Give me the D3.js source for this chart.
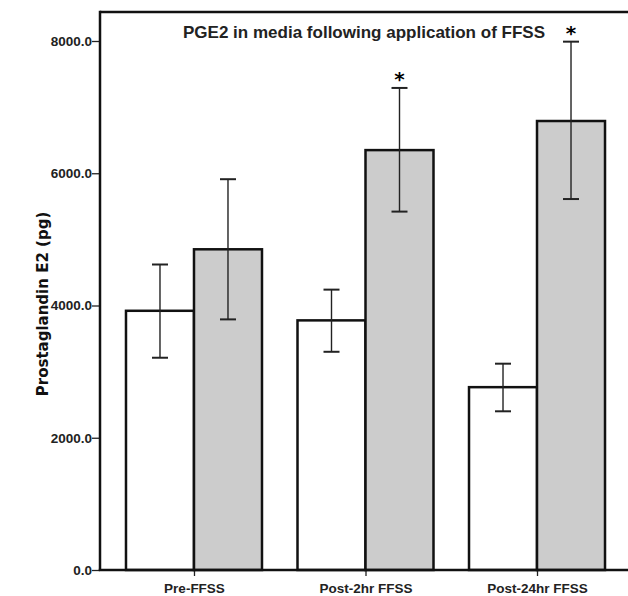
<!DOCTYPE html>
<html>
<head>
<meta charset="utf-8">
<script src="https://cdn.jsdelivr.net/npm/d3@7/dist/d3.min.js"></script>
<style>
  body { margin: 0; background: #fff; }
  .tick text { font-family: "Liberation Sans Narrow", "Liberation Sans", Arial, sans-serif; font-weight: bold; }
</style>
</head>
<body>
<div id="chart"></div>
<script>
// data
const categories = ["Pre-FFSS", "Post-2hr FFSS", "Post-24hr FFSS"];
const meanControl = [3920, 3775, 2765];
const lowControl  = [3210, 3300, 2400];
const highControl = [4620, 4240, 3120];
const meanTreated = [4850, 6350, 6790];
const lowTreated  = [3790, 5420, 5610];
const highTreated = [5910, 7290, 7990];
const significant = [false, true, true];
const yTicks = [0, 2000, 4000, 6000, 8000];

const W = 628, H = 596;
const margin = {top: 12, left: 100, bottom: 26};
const plotBottom = H - margin.bottom;

const svg = d3.select("#chart").append("svg")
    .attr("width", W).attr("height", H);

const y = d3.scaleLinear().domain([0, 8000]).range([plotBottom, 41]);
const x = d3.scalePoint().domain(categories).range([margin.left, 631]).padding(0.548);
const barW = 68;

const rows = categories.map((c, i) => ([
    {cat: c, s: 0, mean: meanControl[i], lo: lowControl[i], hi: highControl[i]},
    {cat: c, s: 1, mean: meanTreated[i], lo: lowTreated[i], hi: highTreated[i]}
])).flat();

// bars
svg.selectAll(".bar").data(rows).join("rect")
    .attr("class", "bar")
    .attr("x", d => x(d.cat) + (d.s === 0 ? -barW : 0))
    .attr("width", barW)
    .attr("y", d => y(d.mean))
    .attr("height", d => plotBottom - y(d.mean))
    .attr("fill", d => d.s === 0 ? "#ffffff" : "#cccccc")
    .attr("stroke", "#111")
    .attr("stroke-width", 2.5);

// error bars
const cap = 8;
const eb = svg.selectAll(".err").data(rows).join("g")
    .attr("class", "err")
    .attr("stroke", "#222")
    .attr("stroke-width", 1.4);
const cx = d => x(d.cat) + (d.s === 0 ? -barW / 2 : barW / 2);
eb.append("line").attr("x1", cx).attr("x2", cx)
    .attr("y1", d => y(d.hi)).attr("y2", d => y(d.lo));
eb.append("line").attr("x1", d => cx(d) - cap).attr("x2", d => cx(d) + cap)
    .attr("y1", d => y(d.hi)).attr("y2", d => y(d.hi)).attr("stroke-width", 2);
eb.append("line").attr("x1", d => cx(d) - cap).attr("x2", d => cx(d) + cap)
    .attr("y1", d => y(d.lo)).attr("y2", d => y(d.lo)).attr("stroke-width", 2);

// asterisks
svg.selectAll(".star").data(rows.filter(d => d.s === 1 && significant[categories.indexOf(d.cat)]))
    .join("text")
    .attr("class", "star")
    .attr("x", cx)
    .attr("y", d => y(d.hi) - 2)
    .attr("text-anchor", "middle")
    .style("font-family", "DejaVu Sans, sans-serif")
    .style("font-weight", "bold")
    .style("font-size", "20px")
    .text("*");

// frame top
svg.append("line")
    .attr("x1", margin.left).attr("x2", W)
    .attr("y1", margin.top).attr("y2", margin.top)
    .attr("stroke", "#111").attr("stroke-width", 2.5);

// axes
const yAxis = svg.append("g")
    .attr("transform", `translate(${margin.left},0)`)
    .call(d3.axisLeft(y).tickValues(yTicks).tickFormat(d3.format(".1f")).tickSize(8).tickSizeOuter(0));
yAxis.select(".domain").remove();
yAxis.selectAll(".tick line").attr("stroke", "#222").attr("stroke-width", 1.3);
yAxis.selectAll(".tick text").attr("font-size", 13.5).attr("fill", "#222").attr("x", -8);
svg.append("line")
    .attr("x1", margin.left).attr("x2", margin.left)
    .attr("y1", margin.top - 1.25).attr("y2", plotBottom)
    .attr("stroke", "#111").attr("stroke-width", 2.5);

const xAxis = svg.append("g")
    .attr("transform", `translate(0,${plotBottom})`)
    .call(d3.axisBottom(x).tickSize(6).tickSizeOuter(0));
xAxis.select(".domain").remove();
xAxis.selectAll(".tick line").attr("stroke", "#222").attr("stroke-width", 1.3);
xAxis.selectAll(".tick text").attr("font-size", 13.5).attr("fill", "#222").attr("y", 13);
svg.append("line")
    .attr("x1", margin.left - 1.25).attr("x2", W)
    .attr("y1", plotBottom).attr("y2", plotBottom)
    .attr("stroke", "#111").attr("stroke-width", 2.5);

// title
svg.append("text")
    .attr("x", 364).attr("y", 38)
    .attr("text-anchor", "middle")
    .attr("textLength", 362)
    .attr("lengthAdjust", "spacingAndGlyphs")
    .style("font-family", "Liberation Sans Narrow, Liberation Sans, sans-serif")
    .style("font-weight", "bold")
    .style("font-size", "17px")
    .attr("fill", "#222")
    .text("PGE2 in media following application of FFSS");

// y label
svg.append("text")
    .attr("transform", `translate(48,304) rotate(-90)`)
    .attr("text-anchor", "middle")
    .style("font-family", "DejaVu Sans, sans-serif")
    .style("font-weight", "bold")
    .style("font-size", "15px")
    .attr("fill", "#111")
    .text("Prostaglandin E2 (pg)");
</script>
</body>
</html>
